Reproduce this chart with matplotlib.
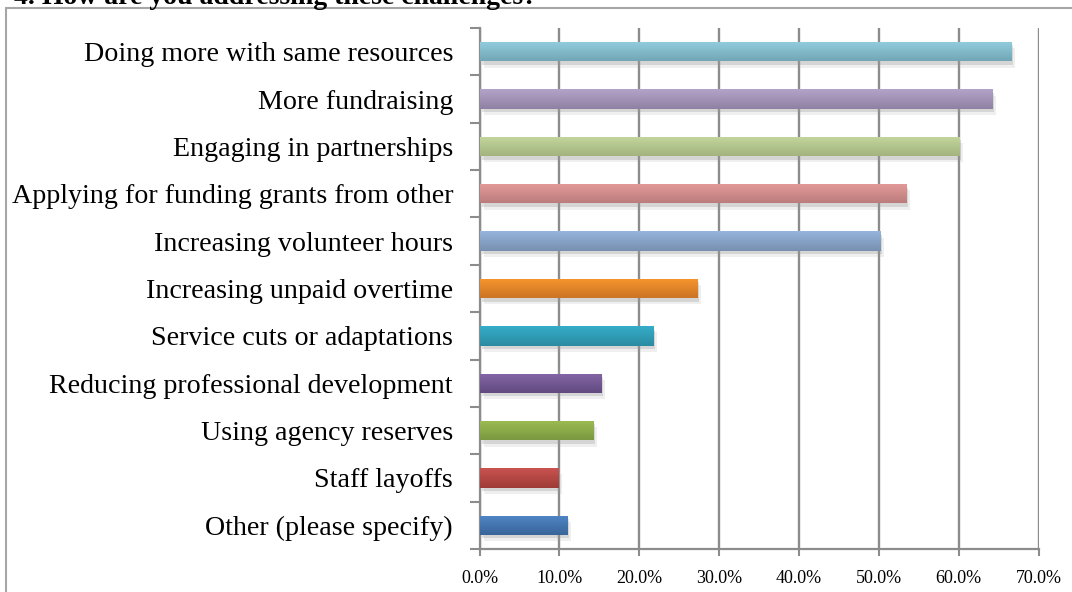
import matplotlib
matplotlib.use('Agg')
import matplotlib.pyplot as plt
import matplotlib.patheffects as pe
from matplotlib.colors import LinearSegmentedColormap
from matplotlib.patches import Rectangle
from matplotlib.ticker import FuncFormatter
import numpy

# data, listed bottom -> top as drawn
labels = ['Other (please specify)', 'Staff layoffs', 'Using agency reserves',
          'Reducing professional development', 'Service cuts or adaptations',
          'Increasing unpaid overtime', 'Increasing volunteer hours',
          'Applying for funding grants from other', 'Engaging in partnerships',
          'More fundraising', 'Doing more with same resources']
values = [10.9, 9.8, 14.2, 15.2, 21.7, 27.2, 50.1, 53.4, 60.0, 64.2, 66.5]
x_ticks = [0, 10, 20, 30, 40, 50, 60, 70]

# (top colour, bottom colour) of each bar's gradient
top_colors = ['#4F86C6', '#C9534F', '#9DBC52', '#8466A6', '#35ADC9',
              '#F7962E', '#96B4DC', '#E59B9A', '#C4D79D', '#B3A3C9', '#93CEDE']
bottom_colors = ['#3A6599', '#9E3B37', '#7A9940', '#624A80', '#2B8BA2',
                 '#CC7425', '#7790B0', '#BA7D7C', '#A2B37F', '#8F81A3', '#72A6B6']

title = '4. How are you addressing these challenges?'

fig = plt.figure(figsize=(10.72, 5.92), dpi=100)

# outer frame that is cut off on the right and bottom
frame = Rectangle((6 / 1072, -0.05), 1.2, 1 - 8 / 592 + 0.05,
                  transform=fig.transFigure, fill=False,
                  edgecolor='#a6a6a6', linewidth=1.5)
fig.patches.append(frame)

# title is mostly cropped off the top, as in the source picture
fig.text(14 / 1072, 1 + 15 / 592, title, ha='left', va='top',
         fontsize=20, fontweight='bold', family='Liberation Serif')

ax = fig.add_axes([479.5 / 1072, 1 - 549 / 592, 559 / 1072, 521 / 592])

y = numpy.arange(len(labels))
bar_h = 0.41
bars = ax.barh(y, values, height=bar_h, color=top_colors, zorder=3,
               linewidth=0)

for i, b in enumerate(bars):
    b.set_path_effects([pe.SimplePatchShadow(offset=(1.5, -2.5),
                                             shadow_rgbFace='#9a9a9a',
                                             alpha=0.3),
                        pe.SimplePatchShadow(offset=(3, -4.5),
                                             shadow_rgbFace='#9a9a9a',
                                             alpha=0.15),
                        pe.Normal()])
    cmap = LinearSegmentedColormap.from_list(
        'g%d' % i, [bottom_colors[i], top_colors[i]])
    grad = numpy.linspace(0, 1, 64).reshape(-1, 1)
    im = ax.imshow(grad, cmap=cmap, aspect='auto', origin='lower',
                   extent=(0, values[i], y[i] - bar_h / 2, y[i] + bar_h / 2),
                   zorder=4)
    im.set_clip_path(b)

ax.set_xlim(0, 70)
ax.set_ylim(-0.5, len(labels) - 0.5)

ax.set_xticks(x_ticks)
ax.xaxis.set_major_formatter(FuncFormatter(lambda v, p: '%.1f%%' % v))
ax.grid(axis='x', color='#8c8c8c', linewidth=1.7, zorder=0)
ax.set_axisbelow(True)

# category labels sit between boundary ticks
ax.set_yticks(numpy.arange(-0.5, len(labels), 1.0))
ax.set_yticklabels([])
ax.set_yticks(y, minor=True)
ax.set_yticklabels(labels, minor=True, family='Liberation Serif',
                   fontsize=20.2)
ax.tick_params(axis='y', which='minor', length=0, pad=19)
ax.tick_params(axis='y', which='major', length=7, width=1.5,
               color='#8c8c8c')
ax.tick_params(axis='x', length=5, width=1.5, color='#8c8c8c', pad=10)
for t in ax.get_xticklabels():
    t.set_family('Liberation Serif')
    t.set_fontsize(13)

for side in ['top', 'right']:
    ax.spines[side].set_visible(False)
for side in ['left', 'bottom']:
    ax.spines[side].set_color('#8c8c8c')
    ax.spines[side].set_linewidth(1.6)

fig.savefig('out.png', dpi=100)
